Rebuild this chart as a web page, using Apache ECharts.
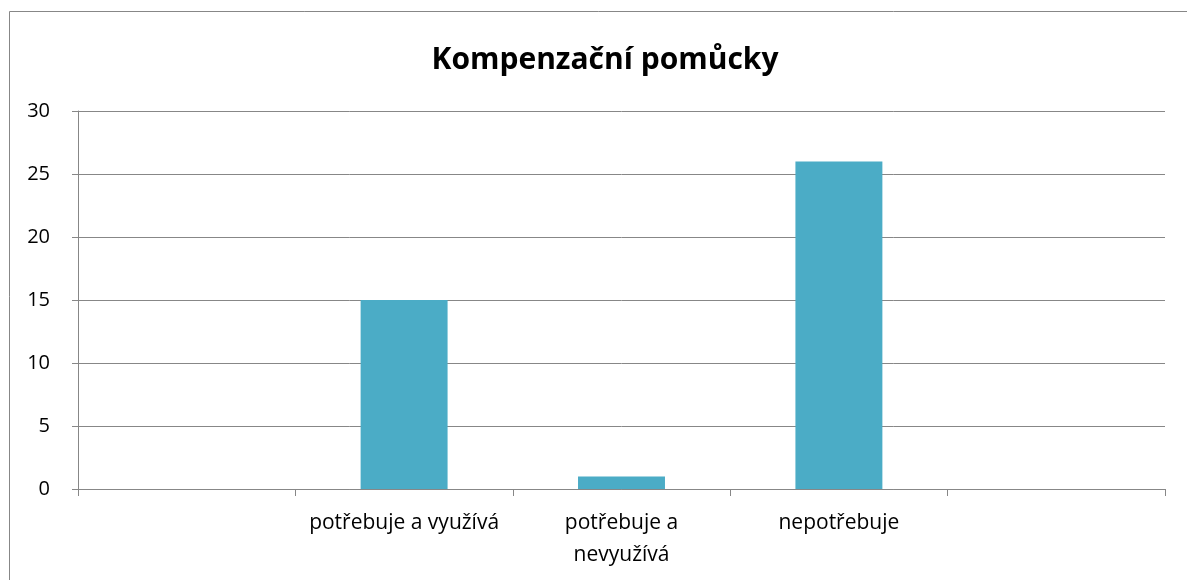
<!DOCTYPE html>
<html>
<head>
<meta charset="utf-8">
<script src="https://cdn.jsdelivr.net/npm/echarts@6/dist/echarts.min.js"></script>
<style>
    html, body { margin: 0; padding: 0; background: #fff; }
    #chart { width: 1187px; height: 580px; }
</style>
</head>
<body>
<div id="chart"></div>
<script>
    // data
    const categories = ['', 'potřebuje a využívá', 'potřebuje a\nnevyužívá', 'nepotřebuje', ''];
    const values = [null, 15, 1, 26, null];
    const yTicks = { min: 0, max: 30, step: 5 };

    const font = '"Open Sans", "Noto Sans", sans-serif';
    const lineColor = '#878787';

    const myChart = echarts.init(document.getElementById('chart'));
    myChart.setOption({
        animation: false,
        title: {
            text: 'Kompenzační pomůcky',
            left: 600,
            top: 40,
            textAlign: 'center',
            textStyle: { fontFamily: font, fontSize: 30, fontWeight: 'bold', color: '#000' }
        },
        graphic: [{
            type: 'rect',
            shape: { x: 9.5, y: 11.5, width: 1200, height: 600 },
            style: { fill: 'none', stroke: lineColor, lineWidth: 1 },
            z: -1
        }],
        grid: { left: 78, right: 22, top: 111, bottom: 91 },
        xAxis: {
            type: 'category',
            data: categories,
            boundaryGap: true,
            axisLine: { lineStyle: { color: lineColor, width: 1 } },
            axisTick: { show: true, length: 7, lineStyle: { color: lineColor } },
            axisLabel: {
                interval: 0,
                margin: 18,
                fontFamily: font,
                fontSize: 21,
                color: '#000',
                lineHeight: 32
            }
        },
        yAxis: {
            type: 'value',
            min: yTicks.min,
            max: yTicks.max,
            interval: yTicks.step,
            axisLine: { show: true, lineStyle: { color: lineColor, width: 1 } },
            axisTick: { show: true, length: 6, lineStyle: { color: lineColor } },
            splitLine: { show: true, lineStyle: { color: lineColor, width: 1 } },
            axisLabel: {
                margin: 28,
                fontFamily: font,
                fontSize: 20,
                color: '#000'
            }
        },
        series: [{
            type: 'bar',
            data: values,
            barWidth: '40%',
            itemStyle: { color: '#4BACC6' }
        }]
    });
</script>
</body>
</html>
